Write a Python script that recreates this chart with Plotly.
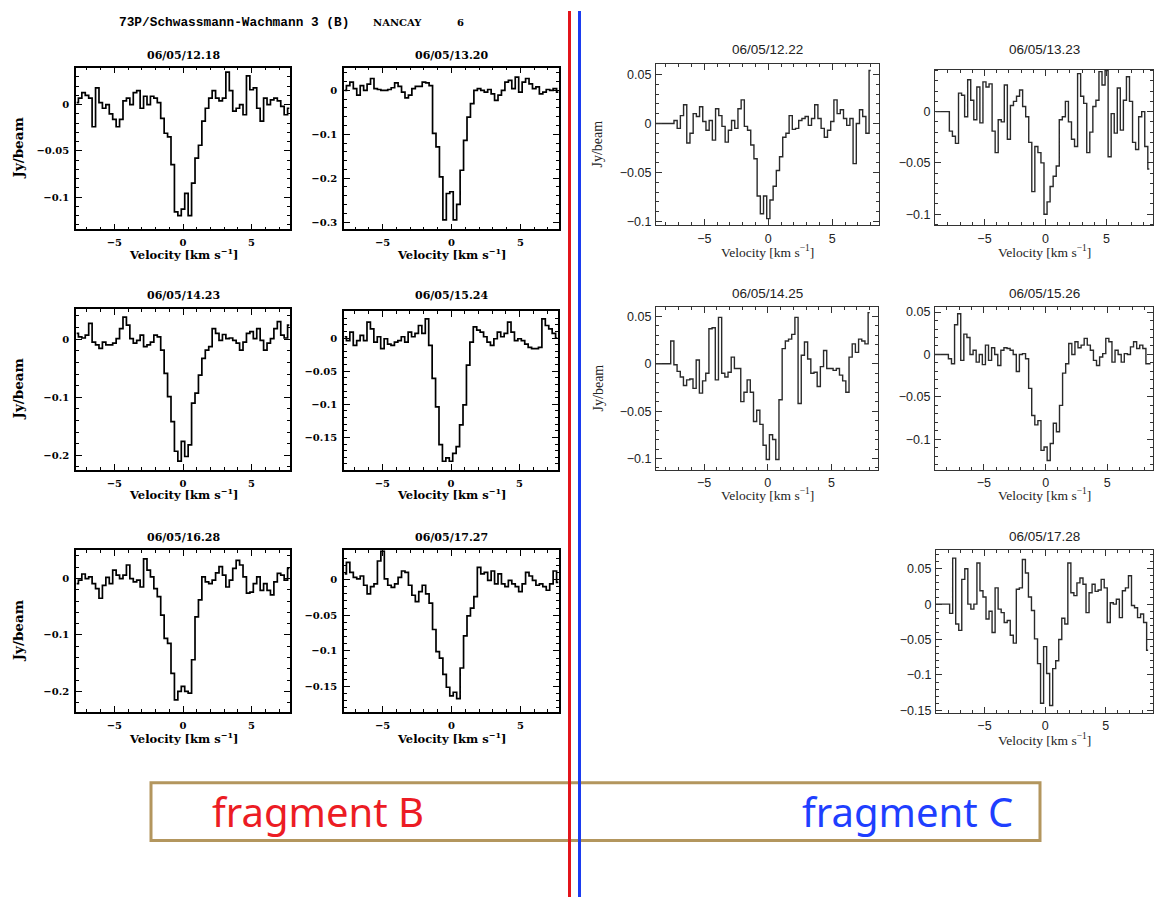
import plotly.graph_objects as go

W, H = 1155, 902

# ---------------- data ----------------
VEL_B = [-7.75, -7.5, -7.25, -7.0, -6.75, -6.5, -6.25, -6.0, -5.75, -5.5, -5.25, -5.0, -4.75, -4.5, -4.25, -4.0,
         -3.75, -3.5, -3.25, -3.0, -2.75, -2.5, -2.25, -2.0, -1.75, -1.5, -1.25, -1.0, -0.75, -0.5, -0.25, 0.0,
         0.25, 0.5, 0.75, 1.0, 1.25, 1.5, 1.75, 2.0, 2.25, 2.5, 2.75, 3.0, 3.25, 3.5, 3.75, 4.0, 4.25, 4.5,
         4.75, 5.0, 5.25, 5.5, 5.75, 6.0, 6.25, 6.5, 6.75, 7.0, 7.25, 7.5, 7.75]

VEL_C = [-9.0, -8.75, -8.5, -8.25, -8.0,
         -7.75, -7.5, -7.25, -7.0, -6.75, -6.5, -6.25, -6.0, -5.75, -5.5, -5.25, -5.0, -4.75, -4.5, -4.25, -4.0,
         -3.75, -3.5, -3.25, -3.0, -2.75, -2.5, -2.25, -2.0, -1.75, -1.5, -1.25, -1.0, -0.75, -0.5, -0.25, 0.0,
         0.25, 0.5, 0.75, 1.0, 1.25, 1.5, 1.75, 2.0, 2.25, 2.5, 2.75, 3.0, 3.25, 3.5, 3.75, 4.0, 4.25, 4.5,
         4.75, 5.0, 5.25, 5.5, 5.75, 6.0, 6.25, 6.5, 6.75, 7.0, 7.25, 7.5, 7.75,
         8.0, 8.25, 8.5]

# fragment B
FLUX_B_1218 = [0.002, 0.007, 0.013, 0.010, 0.007, -0.024, 0.018, 0.002, -0.004, 0.000,
               -0.010, -0.016, -0.024, -0.016, 0.004, 0.007, 0.000, 0.013, 0.015, -0.004,
               0.009, 0.000, 0.009, 0.007, 0.002, -0.015, -0.031, -0.035, -0.065, -0.116,
               -0.120, -0.113, -0.096, -0.120, -0.085, -0.058, -0.044, -0.018, -0.004, 0.007,
               0.015, 0.007, 0.004, 0.007, 0.035, 0.015, -0.007, -0.004, 0.000, -0.011,
               0.031, 0.016, 0.018, -0.004, -0.018, 0.007, 0.000, 0.005, 0.007, 0.004,
               -0.002, -0.011, -0.004]
FLUX_B_1320 = [0.000, 0.011, 0.019, 0.004, -0.011, 0.011, 0.000, 0.014, 0.027, 0.004,
               0.002, 0.000, 0.000, 0.002, 0.006, 0.017, 0.009, -0.004, -0.017, -0.011,
               0.004, 0.009, 0.009, 0.019, 0.017, 0.011, -0.098, -0.129, -0.197, -0.295,
               -0.235, -0.231, -0.295, -0.260, -0.182, -0.114, -0.061, -0.030, 0.000, 0.004,
               0.000, -0.004, 0.002, -0.008, -0.023, -0.011, 0.000, 0.019, 0.023, 0.004,
               0.030, -0.004, 0.019, 0.027, 0.015, 0.004, 0.008, -0.008, -0.004, 0.002,
               0.000, 0.004, -0.004]
FLUX_B_1423 = [0.010, 0.004, 0.002, 0.007, 0.027, -0.005, -0.010, -0.016, -0.005, -0.010,
               -0.010, -0.007, 0.001, 0.018, 0.038, 0.024, 0.001, -0.007, -0.002, 0.007,
               -0.013, -0.010, -0.005, 0.007, 0.004, -0.019, -0.059, -0.099, -0.142, -0.193,
               -0.210, -0.176, -0.202, -0.182, -0.110, -0.093, -0.062, -0.033, -0.019, -0.013,
               0.018, 0.010, -0.002, 0.008, 0.001, 0.002, -0.002, -0.007, -0.019, -0.005,
               0.010, 0.013, 0.001, 0.018, -0.002, -0.019, -0.007, 0.001, 0.018, 0.030,
               0.007, 0.002, 0.024]
FLUX_B_1524 = [0.002, -0.004, 0.009, -0.011, -0.004, 0.004, -0.004, 0.024, 0.014, -0.006,
               0.002, -0.016, -0.001, -0.009, -0.011, -0.006, -0.004, 0.002, -0.006, 0.009,
               0.002, 0.007, 0.019, 0.007, 0.029, -0.011, -0.061, -0.104, -0.161, -0.186,
               -0.181, -0.186, -0.174, -0.164, -0.131, -0.101, -0.041, -0.006, 0.017, 0.012,
               0.009, 0.002, -0.006, -0.011, -0.001, 0.009, 0.002, 0.007, 0.024, 0.009,
               -0.004, -0.001, -0.004, -0.009, -0.014, -0.016, -0.016, -0.014, 0.029, 0.019,
               0.014, 0.007, 0.000]
FLUX_B_1628 = [-0.009, -0.003, 0.008, 0.000, 0.003, -0.009, -0.018, -0.035, -0.012, 0.002,
               -0.009, 0.015, 0.006, 0.000, 0.006, 0.024, 0.000, -0.006, -0.003, -0.015,
               0.035, 0.015, 0.003, -0.018, -0.032, -0.065, -0.106, -0.115, -0.168, -0.215,
               -0.200, -0.191, -0.200, -0.203, -0.144, -0.068, -0.038, 0.003, -0.006, -0.009,
               -0.003, 0.010, 0.021, 0.006, -0.015, -0.003, 0.018, 0.032, 0.024, 0.003,
               -0.026, -0.024, -0.009, 0.003, -0.021, -0.009, -0.021, -0.029, -0.006, 0.009,
               0.006, -0.003, 0.018]
FLUX_B_1727 = [0.008, 0.024, 0.010, 0.003, 0.001, 0.005, -0.008, -0.020, -0.010, -0.006,
               0.026, 0.040, 0.001, -0.008, -0.011, -0.006, 0.003, 0.012, 0.010, -0.008,
               -0.022, -0.031, -0.017, -0.008, -0.020, -0.033, -0.070, -0.101, -0.110, -0.133,
               -0.151, -0.163, -0.158, -0.167, -0.124, -0.079, -0.051, -0.040, -0.024, 0.017,
               0.008, 0.010, -0.001, 0.012, -0.006, 0.008, -0.006, -0.010, -0.001, -0.006,
               -0.010, -0.017, -0.006, 0.010, 0.005, -0.001, -0.008, -0.006, -0.010, -0.015,
               -0.006, 0.012, -0.004]

# fragment C
FLUX_C_1222 = [0.0, 0.0, 0.0, 0.0, 0.0,
               0.000, 0.000, 0.003, -0.005, 0.008, 0.019, -0.020, -0.010, 0.010, 0.007,
               0.017, 0.002, -0.007, 0.003, -0.017, 0.015, 0.008, -0.003, -0.019, -0.007,
               0.003, -0.005, 0.015, 0.024, -0.003, -0.007, -0.022, -0.036, -0.074, -0.092,
               -0.074, -0.097, -0.078, -0.064, -0.048, -0.034, -0.014, -0.010, 0.008, -0.006,
               -0.005, 0.003, 0.005, 0.007, -0.002, 0.005, 0.019, 0.005, -0.005, -0.014,
               -0.007, 0.002, 0.024, 0.010, 0.014, 0.005, -0.002, 0.005, -0.041, 0.000,
               0.014, 0.007, -0.010, 0.054]
FLUX_C_1323 = [0.0, 0.0, 0.0, 0.0, 0.0,
               -0.019, -0.024, -0.031, 0.018, 0.016, -0.005, 0.031, 0.011, -0.008, 0.024,
               -0.011, 0.029, 0.024, 0.027, -0.019, -0.040, -0.008, -0.010, 0.026, -0.027,
               0.006, 0.010, 0.015, 0.021, 0.005, -0.005, -0.030, -0.078, -0.034, -0.040,
               -0.050, -0.100, -0.088, -0.073, -0.063, -0.053, -0.008, -0.005, 0.010, -0.010,
               -0.027, -0.034, 0.037, 0.015, 0.008, -0.040, -0.020, 0.005, 0.011, 0.039,
               0.026, 0.040, -0.044, -0.002, -0.021, 0.023, -0.018, 0.011, 0.034, 0.010,
               -0.030, -0.037, -0.005, 0.000, -0.034, -0.056]
FLUX_C_1425 = [0.0, 0.0, 0.0, 0.0, 0.0,
               0.000, 0.024, -0.001, -0.008, -0.014, -0.023, -0.017, -0.016, -0.026, 0.004,
               -0.031, -0.018, -0.010, 0.037, 0.038, -0.017, 0.049, -0.010, -0.014, -0.009,
               0.007, -0.005, -0.005, -0.040, -0.030, -0.017, -0.030, -0.061, -0.049, -0.064,
               -0.086, -0.101, -0.075, -0.080, -0.101, -0.038, 0.016, 0.024, 0.026, 0.031,
               0.049, -0.042, 0.009, 0.023, 0.005, -0.010, -0.009, -0.024, -0.003, 0.014,
               -0.005, -0.005, -0.007, -0.005, -0.012, -0.018, -0.030, 0.007, 0.021, 0.012,
               0.026, 0.024, 0.021, 0.054]
FLUX_C_1526 = [0.0, 0.0, 0.0, 0.0, 0.0,
               -0.005, -0.011, 0.035, 0.048, -0.007, 0.024, 0.020, 0.000, 0.005, -0.009,
               0.000, -0.012, 0.011, -0.007, 0.008, 0.000, -0.013, 0.005, 0.008, 0.007,
               0.005, 0.000, -0.020, 0.000, 0.001, -0.005, -0.040, -0.072, -0.083, -0.078,
               -0.113, -0.109, -0.125, -0.105, -0.081, -0.091, -0.060, -0.022, -0.011, 0.013,
               0.000, 0.015, 0.008, 0.011, 0.019, 0.011, 0.005, -0.007, -0.013, -0.003,
               0.001, 0.019, 0.015, -0.009, 0.005, 0.000, -0.009, 0.001, 0.000, 0.009,
               0.015, 0.007, 0.011, 0.007, -0.011, -0.011]
FLUX_C_1728 = [0.0, 0.0, 0.0, 0.0, 0.0,
               -0.013, 0.065, -0.028, -0.037, 0.035, 0.050, 0.000, -0.007, 0.000, 0.058,
               0.019, 0.010, -0.021, -0.010, -0.040, 0.023, -0.007, -0.012, -0.026, -0.023,
               -0.044, -0.055, 0.021, 0.023, 0.063, 0.044, 0.010, -0.009, -0.049, -0.084,
               -0.140, -0.060, -0.098, -0.143, -0.091, -0.080, -0.050, -0.020, -0.028, 0.058,
               0.016, 0.012, 0.030, 0.037, 0.028, -0.012, 0.016, 0.028, 0.018, 0.020,
               0.035, 0.023, -0.026, 0.002, 0.000, 0.007, -0.019, 0.019, 0.023, 0.040,
               -0.002, -0.005, -0.019, -0.014, -0.026, -0.065]

TITLES_B = ["06/05/12.18", "06/05/13.20", "06/05/14.23", "06/05/15.24", "06/05/16.28", "06/05/17.27"]
TITLES_C = ["06/05/12.22", "06/05/13.23", "06/05/14.25", "06/05/15.26", "06/05/17.28"]
HEADER = ["73P/Schwassmann-Wachmann 3 (B)", "NANCAY", "6"]
FRAG_LABELS = ["fragment B", "fragment C"]

# ---------------- layout config ----------------
STYLES = {
    "B": dict(line="#000000", lw=1.7, axis="#000000", alw=1.7, bold=True, stand=3,
              tick_font=dict(family="DejaVu Serif", size=10, color="#000"),
              title_font=dict(family="DejaVu Serif", size=11, color="#000"),
              lab_font=dict(family="DejaVu Serif", size=11.5, color="#000"),
              ylab_font=dict(family="DejaVu Serif", size=13.5, color="#000"), tl=6, mtl=3),
    "C": dict(line="#2a2a2a", lw=1.4, axis="#333333", alw=1.2, bold=False, stand=1,
              tick_font=dict(family="Liberation Sans", size=12.5, color="#222"),
              title_font=dict(family="Liberation Sans", size=13.5, color="#222"),
              lab_font=dict(family="Liberation Serif", size=13.5, color="#222"),
              ylab_font=dict(family="Liberation Serif", size=14, color="#222"), tl=6, mtl=3),
}

panels = [
    dict(t=TITLES_B[0], v=VEL_B, f=FLUX_B_1218, box=(76, 67, 290, 230), xr=[-7.8, 7.8], yr=[-0.135, 0.040], dy=0.05, mdy=0.01, ylab=True, s="B", ty=55, xty=255),
    dict(t=TITLES_B[1], v=VEL_B, f=FLUX_B_1320, box=(344, 67, 559, 230), xr=[-7.8, 7.8], yr=[-0.317, 0.052], dy=0.1, mdy=0.02, ylab=False, s="B", ty=55, xty=255),
    dict(t=TITLES_B[2], v=VEL_B, f=FLUX_B_1423, box=(76, 310, 290, 472), xr=[-7.8, 7.8], yr=[-0.225, 0.052], dy=0.1, mdy=0.02, ylab=True, s="B", ty=296, xty=496),
    dict(t=TITLES_B[3], v=VEL_B, f=FLUX_B_1524, box=(344, 312, 558, 472), xr=[-7.8, 7.8], yr=[-0.199, 0.041], dy=0.05, mdy=0.01, ylab=False, s="B", ty=296, xty=496),
    dict(t=TITLES_B[4], v=VEL_B, f=FLUX_B_1628, box=(76, 553, 290, 716), xr=[-7.8, 7.8], yr=[-0.237, 0.050], dy=0.1, mdy=0.02, ylab=True, s="B", ty=540, xty=742),
    dict(t=TITLES_B[5], v=VEL_B, f=FLUX_B_1727, box=(344, 553, 559, 716), xr=[-7.8, 7.8], yr=[-0.186, 0.041], dy=0.05, mdy=0.01, ylab=False, s="B", ty=540, xty=742),
    dict(t=TITLES_C[0], v=VEL_C, f=FLUX_C_1222, box=(656, 63, 879, 226), xr=[-8.78, 8.65], yr=[-0.104, 0.061], dy=0.05, mdy=0.01, ylab=True, s="C", ty=49, xty=252),
    dict(t=TITLES_C[1], v=VEL_C, f=FLUX_C_1323, box=(935, 69, 1153, 226), xr=[-9.05, 8.8], yr=[-0.111, 0.041], dy=0.05, mdy=0.01, ylab=False, s="C", ty=49, xty=252),
    dict(t=TITLES_C[2], v=VEL_C, f=FLUX_C_1425, box=(656, 308, 878, 472), xr=[-8.78, 8.65], yr=[-0.112, 0.060], dy=0.05, mdy=0.01, ylab=True, s="C", ty=294, xty=497),
    dict(t=TITLES_C[3], v=VEL_C, f=FLUX_C_1526, box=(935, 308, 1153, 472), xr=[-8.96, 8.7], yr=[-0.136, 0.056], dy=0.05, mdy=0.01, ylab=False, s="C", ty=294, xty=497),
    dict(t=TITLES_C[4], v=VEL_C, f=FLUX_C_1728, box=(936, 553, 1153, 717), xr=[-9.0, 8.9], yr=[-0.154, 0.076], dy=0.05, mdy=0.01, ylab=False, s="C", ty=539, xty=743),
]

fig = go.Figure()
layout = dict(width=W, height=H, margin=dict(l=0, r=0, t=0, b=0), paper_bgcolor="white",
              plot_bgcolor="rgba(0,0,0,0)", showlegend=False)
ann = []
shapes = []


def fx(p):
    return p / W


def fy(p):
    return 1 - p / H


def bt(s, on):
    return "<b>" + s + "</b>" if on else s


for i, p in enumerate(panels, start=1):
    sfx = "" if i == 1 else str(i)
    st = STYLES[p["s"]]
    x0, y0, x1, y1 = p["box"]
    n = len(p["f"])
    fig.add_trace(go.Scatter(x=p["v"][:n], y=p["f"], mode="lines",
                             line=dict(shape="hvh", color=st["line"], width=st["lw"]),
                             xaxis="x" + sfx, yaxis="y" + sfx, hoverinfo="skip"))
    tf = dict(st["tick_font"])
    if st["bold"]:
        tf["weight"] = "bold"
    common = dict(showgrid=False, zeroline=False, showline=True, linecolor=st["axis"], linewidth=st["alw"],
                  mirror="ticks", ticks="inside", ticklen=st["tl"], tickwidth=1, tickcolor=st["axis"],
                  tickfont=tf, fixedrange=True, ticklabelstandoff=st["stand"])
    layout["xaxis" + sfx] = dict(common, domain=[fx(x0), fx(x1)], range=p["xr"], anchor="y" + sfx,
                                 tick0=0, dtick=5,
                                 minor=dict(dtick=1, tick0=0, ticks="inside", ticklen=st["mtl"], tickcolor=st["axis"], showgrid=False))
    layout["yaxis" + sfx] = dict(common, domain=[fy(y1), fy(y0)], range=p["yr"], anchor="x" + sfx,
                                 tick0=0, dtick=p["dy"],
                                 minor=dict(dtick=p["mdy"], tick0=0, ticks="inside", ticklen=st["mtl"], tickcolor=st["axis"], showgrid=False))
    cx = (x0 + x1) / 2
    ann.append(dict(text=bt(p["t"], st["bold"]), x=fx(cx), y=fy(p["ty"]), xref="paper", yref="paper", showarrow=False,
                    xanchor="center", yanchor="middle", font=st["title_font"]))
    ann.append(dict(text=bt("Velocity [km s<sup>−1</sup>]", st["bold"]), x=fx(cx), y=fy(p["xty"]), xref="paper", yref="paper",
                    showarrow=False, xanchor="center", yanchor="middle", font=st["lab_font"]))
    if p["ylab"]:
        lx = 18 if p["s"] == "B" else 598
        ann.append(dict(text=bt("Jy/beam", st["bold"]), x=fx(lx), y=fy((y0 + y1) / 2), xref="paper", yref="paper", showarrow=False,
                        textangle=-90, xanchor="center", yanchor="middle", font=st["ylab_font"]))

# header
ann.append(dict(text="<b>" + HEADER[0] + "</b>", x=fx(117), y=fy(22), xref="paper", yref="paper", showarrow=False,
                xanchor="left", yanchor="middle", font=dict(family="Liberation Mono", size=12.8, color="#000")))
ann.append(dict(text="<b>" + HEADER[1] + "</b>", x=fx(397), y=fy(22), xref="paper", yref="paper", showarrow=False,
                xanchor="center", yanchor="middle", font=dict(family="DejaVu Serif", size=10, color="#000")))
ann.append(dict(text="<b>" + HEADER[2] + "</b>", x=fx(460), y=fy(22), xref="paper", yref="paper", showarrow=False,
                xanchor="center", yanchor="middle", font=dict(family="DejaVu Serif", size=10, color="#000")))

# fragment box and separator lines
shapes.append(dict(type="rect", xref="paper", yref="paper", x0=fx(151), x1=fx(1040), y0=fy(845), y1=fy(787),
                   line=dict(color="#b3965e", width=3), fillcolor="rgba(0,0,0,0)", layer="above"))
shapes.append(dict(type="line", xref="paper", yref="paper", x0=fx(569.5), x1=fx(569.5), y0=fy(10), y1=fy(902),
                   line=dict(color="#e3141b", width=3), layer="above"))
shapes.append(dict(type="line", xref="paper", yref="paper", x0=fx(579.5), x1=fx(579.5), y0=fy(10), y1=fy(902),
                   line=dict(color="#1c3cf0", width=3), layer="above"))
ffont = "Noto Sans"
ann.append(dict(text=FRAG_LABELS[0], x=fx(318), y=fy(816), xref="paper", yref="paper", showarrow=False,
                xanchor="center", yanchor="middle", font=dict(family=ffont, size=40, color="#ec1c24")))
ann.append(dict(text=FRAG_LABELS[1], x=fx(907), y=fy(816), xref="paper", yref="paper", showarrow=False,
                xanchor="center", yanchor="middle", font=dict(family=ffont, size=40, color="#1f3fff")))

layout["annotations"] = ann
layout["shapes"] = shapes
fig.update_layout(**layout)
fig.write_html("out.html", config={"displayModeBar": False},
               post_script="document.body.style.margin='0';document.body.style.padding='0';document.body.style.overflow='hidden';")
